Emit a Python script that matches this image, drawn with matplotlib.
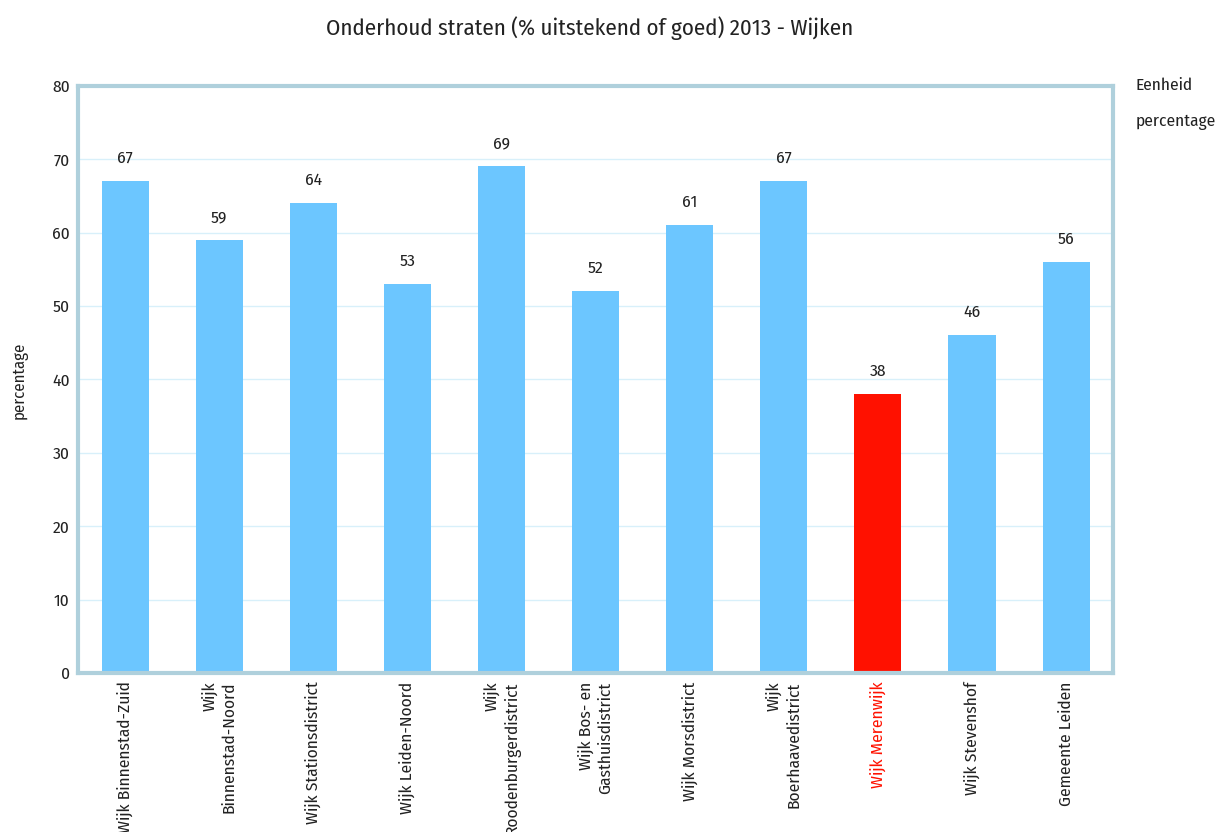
import matplotlib
matplotlib.use('Agg')
import matplotlib.pyplot as plt

plt.rcParams['font.family'] = ['Fira Sans Condensed', 'PT Sans Narrow', 'Roboto Condensed',
                               'Asap Condensed', 'DejaVu Sans']

# data
wijken = ['Wijk Binnenstad-Zuid', 'Wijk\nBinnenstad-Noord', 'Wijk Stationsdistrict',
          'Wijk Leiden-Noord', 'Wijk\nRoodenburgerdistrict', 'Wijk Bos- en\nGasthuisdistrict',
          'Wijk Morsdistrict', 'Wijk\nBoerhaavedistrict', 'Wijk Merenwijk',
          'Wijk Stevenshof', 'Gemeente Leiden']
percentages = [67, 59, 64, 53, 69, 52, 61, 67, 38, 46, 56]
highlight = 'Wijk Merenwijk'
yticks = [0, 10, 20, 30, 40, 50, 60, 70, 80]

blue = '#6cc6ff'
red = '#ff1100'
text_col = '#222222'

fig = plt.figure(figsize=(12.28, 8.32), dpi=100)
ax = fig.add_axes([0.0635, 0.191, 0.843, 0.706])

x = list(range(len(wijken)))
colors = [red if w == highlight else blue for w in wijken]
ax.bar(x, percentages, width=0.5, color=colors, zorder=2)

for xi, v in zip(x, percentages):
    ax.text(xi, v + 2.0, str(v), ha='center', va='bottom', fontsize=12.5, color=text_col)

ax.set_xlim(-0.5, len(wijken) - 0.5)
ax.set_ylim(0, 80)
ax.set_yticks(yticks)
ax.set_yticklabels([str(t) for t in yticks], fontsize=12.5, color=text_col)
ax.yaxis.grid(True, color='#d8f0fa', linewidth=1, zorder=0)
ax.set_axisbelow(True)
ax.tick_params(axis='both', length=0, pad=6)

ax.set_xticks(x)
ax.set_xticklabels(wijken, rotation=90, ha='center', va='top', multialignment='right',
                   fontsize=12.5, color=text_col, linespacing=1.3)
for lbl, w in zip(ax.get_xticklabels(), wijken):
    if w == highlight:
        lbl.set_color(red)

for s in ax.spines.values():
    s.set_color('#afd0dc')
    s.set_linewidth(3)

fig.text(0.016, 0.543, 'percentage', rotation=90, fontsize=12, color=text_col,
         ha='center', va='center')

fig.suptitle('Onderhoud straten (% uitstekend of goed) 2013 - Wijken', x=0.48, y=0.966,
             va='center', fontsize=16.5, color=text_col)
fig.text(0.925, 0.897, 'Eenheid', fontsize=12.5, color=text_col, va='center')
fig.text(0.925, 0.853, 'percentage', fontsize=12.5, color=text_col, va='center')

fig.savefig('out.png', dpi=100)
